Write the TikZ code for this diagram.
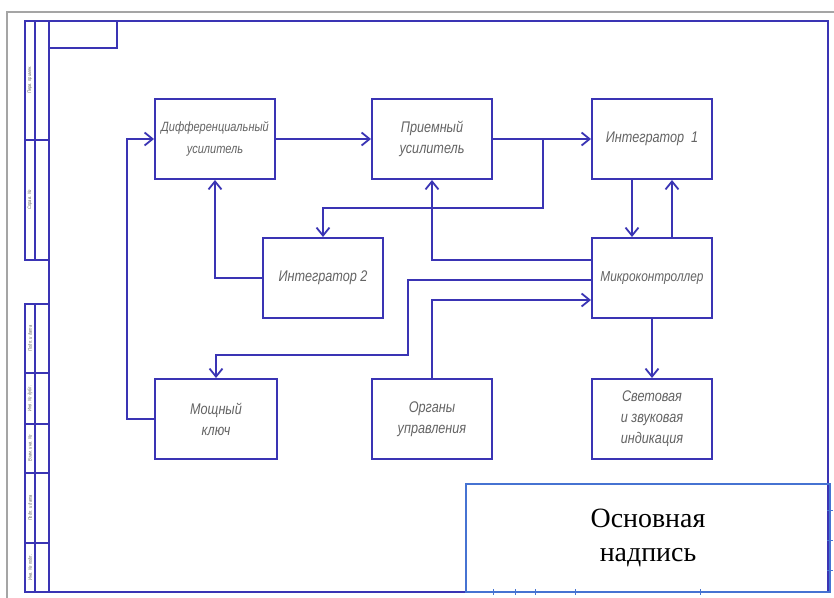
\documentclass[tikz,border=0pt]{standalone}
\usepackage{fontspec}
\newfontfamily\gost[FakeStretch=0.82]{Liberation Sans}
\newfontfamily\tnr{Liberation Serif}
\usetikzlibrary{arrows.meta}
\definecolor{ln}{RGB}{58,52,180}
\definecolor{st}{RGB}{70,115,210}
\definecolor{tx}{RGB}{100,100,100}
\definecolor{pg}{RGB}{165,165,165}
\begin{document}
\begin{tikzpicture}[x=1bp,y=-1bp,
  blk/.style={draw=ln, line width=2bp, minimum width=120bp, minimum height=80bp,
    inner sep=0pt, align=center, text=tx,
    font=\gost\itshape\fontsize{15.5}{21}\selectfont},
  arr/.style={draw=ln, line width=2bp, line join=miter,
    -{Straight Barb[length=8bp,width=13bp,line width=1.8bp]}},
  frm/.style={draw=ln, line width=2bp},
  thin/.style={draw=ln, line width=1.4bp},
  cell/.style={rotate=90, text=tx, inner sep=0pt,
    font=\gost\itshape\fontsize{5}{6}\selectfont}]
\useasboundingbox (0,0) rectangle (834,598);
\fill[white] (0,0) rectangle (834,598);

% page edge
\draw[pg, line width=1.4bp] (7,598) -- (7,12) -- (834,12);

% drawing frame
\draw[frm] (49,21) rectangle (828,592);
\draw[frm] (49,21) rectangle (117,48);
% upper side strip
\draw[thin] (25,21) rectangle (49,260);
\draw[thin] (35,21) -- (35,260);
\draw[thin] (25,140) -- (49,140);
\node[cell] (s1) at (30,80) {Перв. примен.};
\node[cell] (s2) at (30,200) {Справ. №};
% lower side strip
\draw[thin] (25,304) rectangle (49,592);
\draw[thin] (35,304) -- (35,592);
\foreach \yy in {373,424,473,543} \draw[thin] (25,\yy) -- (49,\yy);
\node[cell] (s3) at (30,338.5) {Подп. и дата};
\node[cell] (s4) at (30,398.5) {Инв. № дубл.};
\node[cell] (s5) at (30,448.5) {Взам. инв. №};
\node[cell] (s6) at (30,508) {Подп. и дата};
\node[cell] (s7) at (30,567.5) {Инв. № подл.};

% title block
\node[draw=st, line width=1.6bp, minimum width=364bp, minimum height=108bp,
  inner sep=0pt, align=center, font=\tnr\fontsize{28}{34}\selectfont]
  (stamp) at (648,538) {Основная\\надпись};
\foreach \xx in {493,515,535,575,700} \draw[st, line width=1bp] (\xx,589) -- (\xx,595);
\foreach \yy in {510,540,570} \draw[st, line width=1bp] (827,\yy) -- (833,\yy);

% blocks
\node[blk, font=\gost\itshape\fontsize{13.5}{22}\selectfont]
  (diff) at (215,139) {Дифференциальный\\усилитель};
\node[blk] (pri) at (432,139) {Приемный\\усилитель};
\node[blk] (int1) at (652,139) {Интегратор\ \ 1};
\node[blk] (int2) at (323,278) {Интегратор 2};
\node[blk, font=\gost\itshape\fontsize{14.5}{21}\selectfont] (mcu) at (652,278) {Микроконтроллер};
\node[blk, minimum width=122bp] (key) at (216,419) {Мощный\\ключ};
\node[blk] (org) at (432,419) {Органы\\управления};
\node[blk] (ind) at (652,419) {Световая\\и звуковая\\индикация};

% bend points
\coordinate (b1) at (543,139);
\coordinate (b2) at (543,208);
\coordinate (m1) at (408,280);
\coordinate (m2) at (408,355);
\coordinate (k1) at (127,0);

% connectors
\draw[arr] (diff.east) -- (pri.west);
\draw[arr] (pri.east) -- (int1.west);
\draw[arr] (b1) -- (b2) -| (int2.north);
\draw[arr] ([xshift=-20bp]int1.south) -- ([xshift=-20bp]mcu.north);
\draw[arr] ([xshift=20bp]mcu.north) -- ([xshift=20bp]int1.south);
\draw[arr] (mcu.west |- 0,260) -| (pri.south);
\draw[arr] (int2.west) -| (diff.south);
\draw[arr] (mcu.west |- m1) -- (m1) -- (m2) -| (key.north);
\draw[arr] (org.north) |- (mcu.west |- 0,300);
\draw[arr] (mcu.south) -- (ind.north);
\draw[arr] (key.west) -- (key.west -| k1) -- (diff.west -| k1) -- (diff.west);
\end{tikzpicture}
\end{document}
